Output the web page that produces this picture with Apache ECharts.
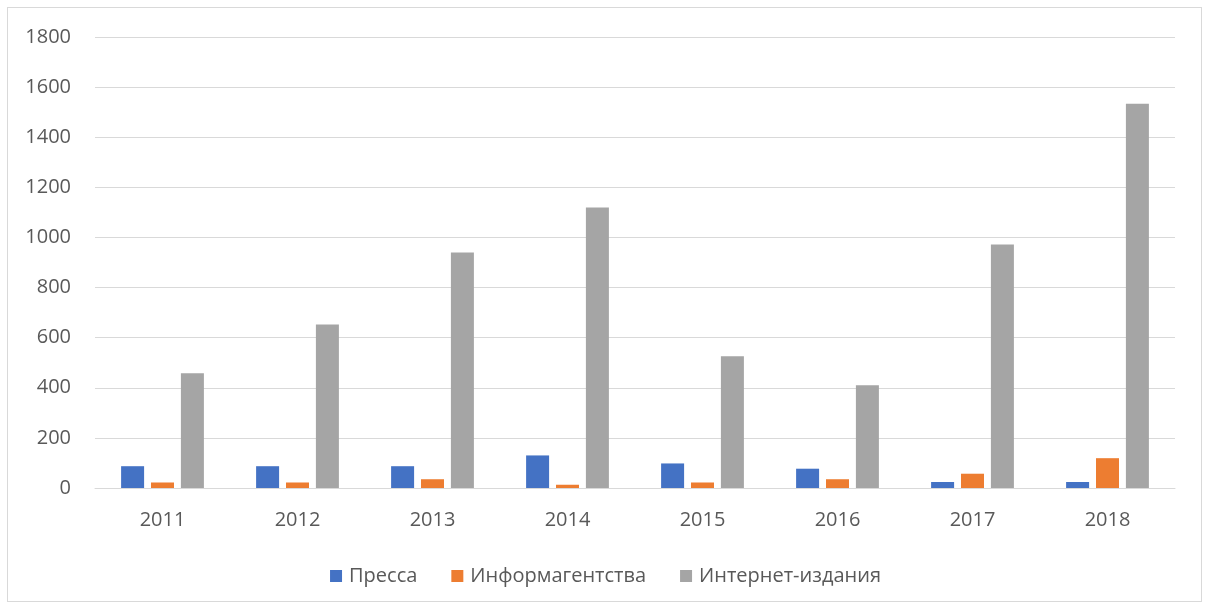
<!DOCTYPE html>
<html>
<head>
<meta charset="utf-8">
<script src="https://cdn.jsdelivr.net/npm/echarts@6/dist/echarts.min.js"></script>
<style>
    html, body { margin: 0; padding: 0; background: #fff; }
    #frame {
        position: absolute; left: 7px; top: 7px;
        width: 1195px; height: 595px;
        border: 1px solid #d9d9d9;
        box-sizing: border-box;
    }
    #chart { position: absolute; left: 0; top: 0; width: 1211px; height: 610px; }
</style>
</head>
<body>
<div id="frame"></div>
<div id="chart"></div>
<script>
// ===== 数据 =====
const years = ['2011', '2012', '2013', '2014', '2015', '2016', '2017', '2018'];
const press = [87, 87, 87, 130, 98, 77, 24, 24];
const agencies = [22, 22, 35, 13, 22, 35, 57, 119];
const online = [458, 653, 940, 1120, 526, 410, 972, 1534];
const yTicks = [0, 200, 400, 600, 800, 1000, 1200, 1400, 1600, 1800];

const COLORS = {
    blue: '#4472C4',
    orange: '#ED7D31',
    gray: '#A5A5A5',
    text: '#595959',
    grid: '#d9d9d9'
};
const FONT = '"Open Sans", "Noto Sans", sans-serif';

const chart = echarts.init(document.getElementById('chart'));

function barSeries(name, data, color) {
    return {
        name: name,
        type: 'bar',
        data: data,
        barWidth: 23,
        barGap: '30%',
        itemStyle: { color: color }
    };
}

chart.setOption({
    animation: false,
    textStyle: { fontFamily: FONT },
    grid: { left: 95, right: 36, top: 37, bottom: 122, containLabel: false },
    legend: {
        top: 561,
        left: 'center',
        itemWidth: 12,
        itemHeight: 12,
        itemGap: 34,
        icon: 'rect',
        textStyle: { fontSize: 20, color: COLORS.text, fontFamily: FONT, padding: [0, 0, 0, 2] },
        data: ['Пресса', 'Информагентства', 'Интернет-издания']
    },
    xAxis: {
        type: 'category',
        data: years,
        axisLine: { lineStyle: { color: COLORS.grid } },
        axisTick: { show: false },
        axisLabel: { fontSize: 20, color: COLORS.text, margin: 22 }
    },
    yAxis: {
        type: 'value',
        min: yTicks[0],
        max: yTicks[yTicks.length - 1],
        interval: 200,
        axisLine: { show: false },
        axisTick: { show: false },
        axisLabel: { fontSize: 20, color: COLORS.text, margin: 24, formatter: v => String(v) },
        splitLine: { lineStyle: { color: COLORS.grid, width: 1 } }
    },
    series: [
        barSeries('Пресса', press, COLORS.blue),
        barSeries('Информагентства', agencies, COLORS.orange),
        barSeries('Интернет-издания', online, COLORS.gray)
    ]
});
</script>
</body>
</html>
